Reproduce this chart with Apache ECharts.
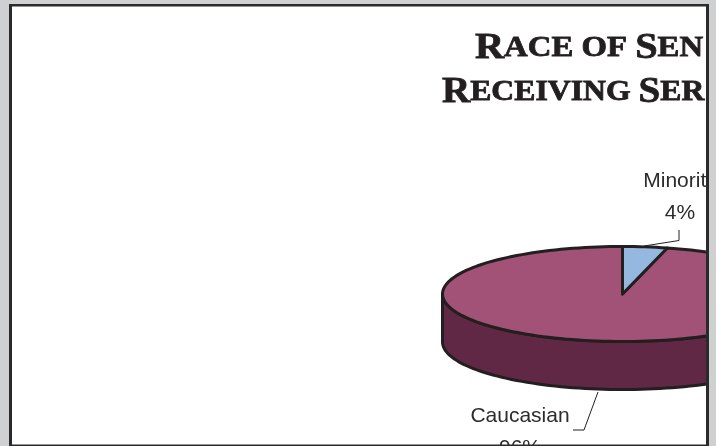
<!DOCTYPE html>
<html>
<head>
<meta charset="utf-8">
<style>html,body{margin:0;padding:0;background:#cfd0d2}#c{width:716px;height:446px}</style>
<script src="https://cdn.jsdelivr.net/npm/echarts@6/dist/echarts.min.js"></script>
</head>
<body>
<div id="c"></div>
<script>
var categories = ['Caucasian', 'Minority'];
var values = [96, 4];
var colors = ['#A35277', '#95B8E0'];
var titleLine1 = '{c|R}{s|ACE OF }{c|S}{s|EN}';
var titleLine2 = '{c|R}{s|ECEIVING }{c|S}{s|ER}';

var cx = 622.5, cy = 294, rx = 180, ry = 47.5, depth = 48;
var ink = '#231f20';
var total = values.reduce(function (a, b) { return a + b; }, 0);
var labelPos = [
  { x: 520, y: 416, line: [[598, 392], [584, 430], [573, 430]] },
  { x: 680, y: 181, line: [[644, 246], [679, 240.5], [679, 230]] }
];

function pt(deg, dy) {
  var a = deg * Math.PI / 180;
  return [cx + rx * Math.sin(a), cy - ry * Math.cos(a) + (dy || 0)];
}
function arc(from, to, dy) {
  var out = [], n = Math.max(2, Math.ceil(Math.abs(to - from) / 2));
  for (var i = 0; i <= n; i++) out.push(pt(from + (to - from) * i / n, dy));
  return out;
}

function renderItem(params, api) {
  var i = params.dataIndex, v = api.value(1), after = 0;
  for (var k = i + 1; k < values.length; k++) after += values[k];
  var start = after / total * 360, end = start + v / total * 360;
  var children = [];
  var style = { stroke: ink, lineWidth: 3, lineJoin: 'round' };
  if (i === 0) {
    children.push({
      type: 'polygon',
      shape: { points: arc(90, 270, 0).concat(arc(270, 90, depth)) },
      style: Object.assign({ fill: '#602845' }, style)
    });
  }
  children.push({
    type: 'polygon',
    shape: { points: [[cx, cy]].concat(arc(start, end, 0)) },
    style: Object.assign({ fill: colors[i] }, style)
  });
  var lp = labelPos[i];
  children.push({
    type: 'polyline',
    shape: { points: lp.line },
    style: { stroke: ink, lineWidth: 1, fill: null }
  });
  children.push({
    type: 'text',
    style: {
      x: lp.x, y: lp.y - 16,
      text: categories[i] + '\n' + Math.round(v / total * 100) + '%',
      font: '21px "Liberation Sans"',
      fill: '#2e2b2c', align: 'center', verticalAlign: 'top', lineHeight: 32
    }
  });
  return { type: 'group', children: children };
}

var rich = {
  c: { fontFamily: 'Liberation Serif', fontWeight: 'bold', fontSize: 32, fill: '#231f20', textFill: '#231f20', color: '#231f20' },
  s: { fontFamily: 'Liberation Serif', fontWeight: 'bold', fontSize: 26, fill: '#231f20', textFill: '#231f20', color: '#231f20' }
};
function titleEl(text, x, y, sx) {
  return {
    type: 'text', z: 50, silent: true, x: x, y: y, scaleX: sx, scaleY: 1.12,
    style: { text: text, rich: rich, fill: '#231f20', stroke: '#231f20', lineWidth: 0.7, align: 'left', verticalAlign: 'top' }
  };
}

var chart = echarts.init(document.getElementById('c'), null, { renderer: 'canvas' });
chart.setOption({
  animation: false,
  backgroundColor: '#cfd0d2',
  graphic: [
    { type: 'rect', z: -1, silent: true, shape: { x: 10, y: 5, width: 698, height: 442 }, style: { fill: '#fff' } },
    titleEl(titleLine1, 475, 31, 1.26),
    titleEl(titleLine2, 442, 75, 1.22),
    { type: 'rect', z: 100, silent: true, shape: { x: 708, y: 0, width: 8, height: 446 }, style: { fill: '#cfd0d2' } },
    { type: 'rect', z: 101, silent: true, shape: { x: 9, y: 4, width: 3, height: 442 }, style: { fill: '#2b2a2b' } },
    { type: 'rect', z: 101, silent: true, shape: { x: 9, y: 4, width: 700, height: 2.5 }, style: { fill: '#2b2a2b' } },
    { type: 'rect', z: 101, silent: true, shape: { x: 706, y: 4, width: 3, height: 442 }, style: { fill: '#2b2a2b' } },
    { type: 'rect', z: 101, silent: true, shape: { x: 9, y: 444.5, width: 700, height: 1.5 }, style: { fill: '#2b2a2b' } }
  ],
  series: [{
    type: 'custom',
    coordinateSystem: 'none',
    renderItem: renderItem,
    clip: false,
    data: categories.map(function (c, i) { return { name: c, value: [i, values[i]] }; })
  }]
});
</script>
</body>
</html>
